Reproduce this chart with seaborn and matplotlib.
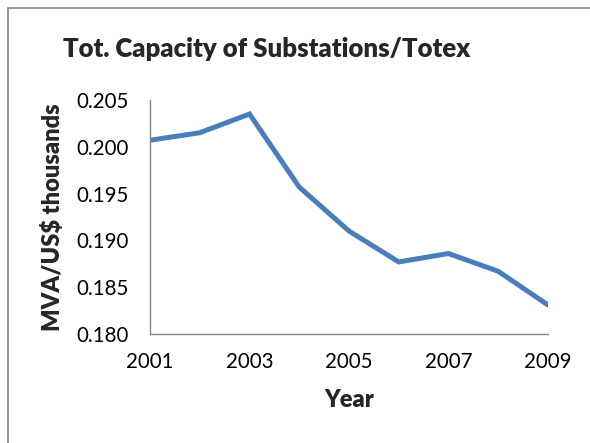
import matplotlib
matplotlib.use("Agg")
import matplotlib.pyplot as plt
import seaborn as sns
import pandas as pd
from matplotlib.patches import Rectangle

years = [2001, 2002, 2003, 2004, 2005, 2006, 2007, 2008, 2009]
capacity_per_totex = [0.2007, 0.2015, 0.2035, 0.1957, 0.1910, 0.1877, 0.1886, 0.1867, 0.1831]
y_ticks = [0.180, 0.185, 0.190, 0.195, 0.200, 0.205]
x_ticks = [2001, 2003, 2005, 2007, 2009]

df = pd.DataFrame({"Year": years, "Value": capacity_per_totex})

sns.set_theme(style="white")
plt.rcParams["font.family"] = ["Lato", "DejaVu Sans"]

fig = plt.figure(figsize=(5.9, 4.43), dpi=100)
ax = fig.add_axes([0.2542, 0.246, 0.6746, 0.5283])

sns.lineplot(data=df, x="Year", y="Value", ax=ax, color="#4A7EBB", linewidth=3.6,
             solid_joinstyle="miter")

ax.set_xlim(2001, 2009)
ax.set_ylim(0.180, 0.205)
ax.set_xticks(x_ticks)
ax.set_xticklabels([str(t) for t in x_ticks])
ax.set_yticks(y_ticks)
ax.set_yticklabels([f"{t:.3f}" for t in y_ticks])
ax.tick_params(axis="both", length=0, labelsize=14.8, colors="black")
ax.tick_params(axis="x", pad=13)
ax.tick_params(axis="y", pad=15)

for side in ["top", "right"]:
    ax.spines[side].set_visible(False)
for side in ["left", "bottom"]:
    ax.spines[side].set_color("#868686")
    ax.spines[side].set_linewidth(1.0)

ax.set_xlabel("Year", fontsize=17, fontweight="heavy", labelpad=12)
ax.set_ylabel("MVA/US$ thousands", fontsize=17, fontweight="heavy", labelpad=9)

fig.text(0.452, 0.889, "Tot. Capacity of Substations/Totex", ha="center", va="center",
         fontsize=18.5, fontweight="heavy")

# chart area frame
fig.patches.append(Rectangle((8 / 590, -0.1), 1.2, 1 - 8 / 443 + 0.1, transform=fig.transFigure,
                             fill=False, edgecolor="#868686", linewidth=1.2))

fig.savefig("out.png", dpi=100)
